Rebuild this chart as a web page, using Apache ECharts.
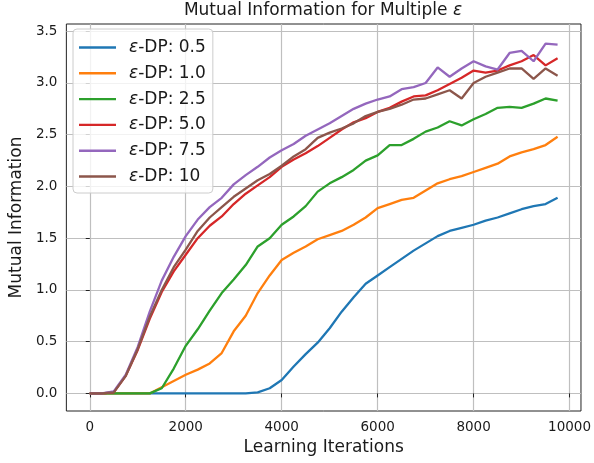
<!DOCTYPE html>
<html><head><meta charset="utf-8">
<script src="https://cdn.jsdelivr.net/npm/echarts@6/dist/echarts.min.js"></script>
<style>html,body{margin:0;padding:0;background:#fff}#c{width:594px;height:463px}</style>
</head><body><div id="c"></div>
<script>
const iterations = [0,250,500,750,1000,1250,1500,1750,2000,2250,2500,2750,3000,3250,3500,3750,4000,4250,4500,4750,5000,5250,5500,5750,6000,6250,6500,6750,7000,7250,7500,7750,8000,8250,8500,8750,9000,9250,9500,9750];
const eps05 = [0,0,0,0,0,0,0,0,0,0,0,0,0,0,0.01,0.05,0.13,0.26,0.38,0.49,0.63,0.79,0.93,1.06,1.14,1.22,1.30,1.38,1.45,1.52,1.57,1.60,1.63,1.67,1.70,1.74,1.78,1.81,1.83,1.89];
const eps10 = [0,0,0,0,0,0,0.06,0.12,0.18,0.23,0.29,0.39,0.60,0.75,0.97,1.14,1.29,1.36,1.42,1.49,1.53,1.57,1.63,1.70,1.79,1.83,1.87,1.89,1.96,2.03,2.07,2.10,2.14,2.18,2.22,2.29,2.33,2.36,2.40,2.48];
const eps25 = [0,0,0,0,0,0,0.05,0.24,0.46,0.62,0.80,0.97,1.10,1.24,1.42,1.50,1.63,1.71,1.81,1.95,2.03,2.09,2.16,2.25,2.30,2.40,2.40,2.46,2.53,2.57,2.63,2.59,2.65,2.70,2.76,2.77,2.76,2.80,2.85,2.83];
const eps50 = [0,0,0.01,0.17,0.42,0.72,0.98,1.18,1.34,1.50,1.62,1.71,1.83,1.93,2.01,2.09,2.19,2.26,2.32,2.39,2.47,2.55,2.62,2.66,2.72,2.76,2.82,2.87,2.88,2.93,2.99,3.05,3.12,3.10,3.12,3.17,3.21,3.27,3.17,3.24];
const eps75 = [0,0,0.02,0.18,0.45,0.79,1.09,1.32,1.52,1.68,1.80,1.89,2.02,2.11,2.19,2.28,2.35,2.41,2.49,2.55,2.61,2.68,2.75,2.80,2.84,2.87,2.94,2.96,3.00,3.15,3.06,3.14,3.21,3.16,3.13,3.29,3.31,3.21,3.38,3.37];
const eps100 = [0,0,0.01,0.17,0.43,0.74,1.00,1.22,1.39,1.57,1.70,1.80,1.90,1.98,2.06,2.12,2.20,2.29,2.36,2.47,2.52,2.56,2.61,2.68,2.72,2.75,2.79,2.84,2.85,2.89,2.93,2.85,3.00,3.06,3.10,3.14,3.14,3.04,3.14,3.07];
const seriesNames = ['ε-DP: 0.5','ε-DP: 1.0','ε-DP: 2.5','ε-DP: 5.0','ε-DP: 7.5','ε-DP: 10'];
const seriesValues = [eps05, eps10, eps25, eps50, eps75, eps100];
const xTicks = [0,2000,4000,6000,8000,10000];
const yTicks = [0,0.5,1,1.5,2,2.5,3,3.5];
const colors = ['#1f77b4','#ff7f0e','#2ca02c','#d62728','#9467bd','#8c564b'];

const FONT = 'DejaVu Sans';
const TXT = '#1a1a1a';
const chart = echarts.init(document.getElementById('c'), null, {renderer:'canvas'});
chart.setOption({
  animation: false,
  color: colors,
  title: {
    text: '{n|Mutual Information for Multiple }{e|ε}',
    left: 323, top: 2, padding: 0, textAlign: 'center',
    textStyle: {
      rich: {
        n: {fontFamily: FONT, fontSize: 17, color: TXT, fontWeight: 'normal', lineHeight: 18},
        e: {fontFamily: FONT, fontSize: 17, color: TXT, fontStyle: 'italic', fontWeight: 'normal', lineHeight: 18}
      }
    }
  },
  legend: {
    orient: 'vertical', left: 73, top: 29,
    padding: [10, 7, 8, 6],
    icon: 'rect',
    itemWidth: 37, itemHeight: 2.4, itemGap: 8.8,
    backgroundColor: 'rgba(255,255,255,0.8)',
    borderColor: '#cccccc', borderWidth: 1, borderRadius: 4,
    formatter: function (name) { return '{e|ε}{t|' + name.slice(1) + '}'; },
    textStyle: {
      padding: [0, 0, 0, 8],
      rich: {
        e: {fontFamily: FONT, fontSize: 17, color: TXT, fontStyle: 'italic', lineHeight: 17},
        t: {fontFamily: FONT, fontSize: 17, color: TXT, lineHeight: 17}
      }
    },
    data: seriesNames
  },
  grid: {left: 64, right: 11, top: 24, bottom: 52, show: true, borderColor: '#222', borderWidth: 1, backgroundColor: 'transparent', containLabel: false},
  xAxis: {
    type: 'value', min: -487.5, max: 10237.5,
    name: 'Learning Iterations', nameLocation: 'middle', nameGap: 27,
    nameTextStyle: {fontFamily: FONT, fontSize: 17, color: TXT},
    axisLine: {show: false},
    axisTick: {show: true, length: 4, inside: false, customValues: xTicks, lineStyle: {color: '#222', width: 1}},
    axisLabel: {customValues: xTicks, fontFamily: FONT, fontSize: 13.5, color: TXT, margin: 9, formatter: v => String(v)},
    splitLine: {show: true, lineStyle: {color: '#bfbfbf', width: 1.2}}
  },
  yAxis: {
    type: 'value', min: -0.17, max: 3.57,
    name: 'Mutual Information', nameLocation: 'middle', nameGap: 39,
    nameTextStyle: {fontFamily: FONT, fontSize: 17, color: TXT},
    axisLine: {show: false},
    axisTick: {show: true, length: 4, inside: false, customValues: yTicks, lineStyle: {color: '#222', width: 1}},
    axisLabel: {customValues: yTicks, fontFamily: FONT, fontSize: 13.5, color: TXT, margin: 9, formatter: v => v.toFixed(1)},
    splitLine: {show: true, lineStyle: {color: '#bfbfbf', width: 1.2}}
  },
  series: seriesNames.map((name, i) => ({
    name: name, type: 'line', symbol: 'none', showSymbol: false,
    data: iterations.map((x, j) => [x, seriesValues[i][j]]),
    lineStyle: {width: 2.3, color: colors[i]},
    itemStyle: {color: colors[i]},
    z: 2 + i
  }))
});
</script></body></html>
